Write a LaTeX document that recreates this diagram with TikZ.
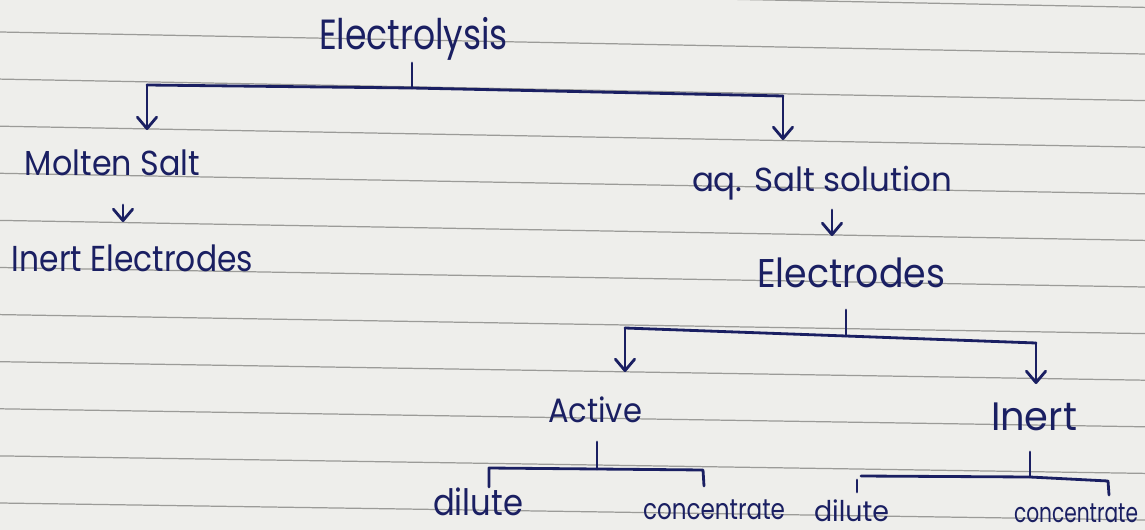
\documentclass[tikz,border=0pt]{standalone}
\usepackage{fontspec}
\setmainfont{Poppins}
\usetikzlibrary{arrows.meta}
\definecolor{ink}{RGB}{26,31,98}
\definecolor{paper}{RGB}{238,238,235}
\definecolor{ruling}{RGB}{155,155,152}
\newlength\pxu
\setlength\pxu{0.02cm}
\newcommand\hw[3]{\resizebox*{#1\pxu}{#2\pxu}{#3}}
\tikzset{
  wire/.style={draw=ink, line width=1.6pt, line cap=round, line join=round},
  arr/.style={wire, -{Straight Barb[length=6.5pt,width=11pt,round]}},
  word/.style={inner sep=0pt, outer sep=0pt, text=ink},
  ruleline/.style={draw=ruling, line width=0.7pt}
}
\begin{document}
\begin{tikzpicture}[x=0.02cm,y=-0.02cm]
\useasboundingbox (0,0) rectangle (1145,530);
\fill[paper] (0,0) rectangle (1145,530);
% ruled lines of the paper
\foreach \i in {-1,...,10}
  \draw[ruleline] (0,{32+47.1*\i}) -- (1145,{54+46.6*\i});

% texts
\node[word] (elec) at (413.5,38.5) {\hw{189}{43}{Electrolysis}};
\node[word] (molten) at (112.5,163) {\hw{175}{26}{Molten Salt}};
\node[word] (inertE) at (132.5,258.5) {\hw{241}{27}{Inert Electrodes}};
\node[word] (aq) at (822,183) {\hw{260}{34}{aq. Salt solution}};
\node[word] (electrodes) at (851,273) {\hw{188}{30}{Electrodes}};
\node[word] (active) at (595,410) {\hw{94}{26}{Active}};
\node[word] (inert) at (1034,417) {\hw{86}{28}{Inert}};
\node[word] (dilA) at (478,502) {\hw{90}{28}{dilute}};
\node[word] (concA) at (714,510) {\hw{142}{20}{concentrate}};
\node[word] (dilB) at (851.5,511) {\hw{75}{22}{dilute}};
\node[word] (concB) at (1076,513) {\hw{124}{19}{concentrate}};

% coordinates of the connectors
\coordinate (e0) at (412,63);
\coordinate (eJ) at (412,88);
\coordinate (eL) at (147,85);
\coordinate (eR) at (783,96);
\coordinate (eLa) at (147,130);
\coordinate (eRa) at (783,140);
\coordinate (m0) at (123,205);
\coordinate (m1) at (123,222);
\coordinate (a0) at (832,210);
\coordinate (a1) at (832,236);
\coordinate (d0) at (846,310);
\coordinate (dJ) at (846,336);
\coordinate (dL) at (625,328);
\coordinate (dR) at (1036,343);
\coordinate (dLa) at (625,372);
\coordinate (dRa) at (1036,384);
\coordinate (c0) at (597,442);
\coordinate (cJ) at (597,469);
\coordinate (cL) at (489,468);
\coordinate (cLt) at (489,487);
\coordinate (cR) at (703,470);
\coordinate (cRt) at (704,486);
\coordinate (i0) at (1030,452);
\coordinate (iJ) at (1030,477);
\coordinate (iL) at (861,476);
\coordinate (iR) at (1108,481);
\coordinate (iRt) at (1109,495);
\coordinate (iLt0) at (857,480);
\coordinate (iLt1) at (857,492);

% Electrolysis
\draw[wire] (e0) -- (eJ);
\draw[wire] (eL) -- (eJ) -- (eR);
\draw[arr] (eL) -- (eLa);
\draw[arr] (eR) -- (eRa);
% Molten salt -> inert electrodes
\draw[arr] (m0) -- (m1);
% aq. salt solution -> electrodes
\draw[arr] (a0) -- (a1);
% Electrodes
\draw[wire] (d0) -- (dJ);
\draw[wire] (dL) -- (dJ) -- (dR);
\draw[arr] (dL) -- (dLa);
\draw[arr] (dR) -- (dRa);
% Active
\draw[wire] (c0) -- (cJ);
\draw[wire] (cLt) -- (cL) -- (cJ) -- (cR) -- (cRt);
% Inert
\draw[wire] (i0) -- (iJ);
\draw[wire] (iL) -- (iJ) -- (iR) -- (iRt);
\draw[wire] (iLt0) -- (iLt1);
\end{tikzpicture}
\end{document}
